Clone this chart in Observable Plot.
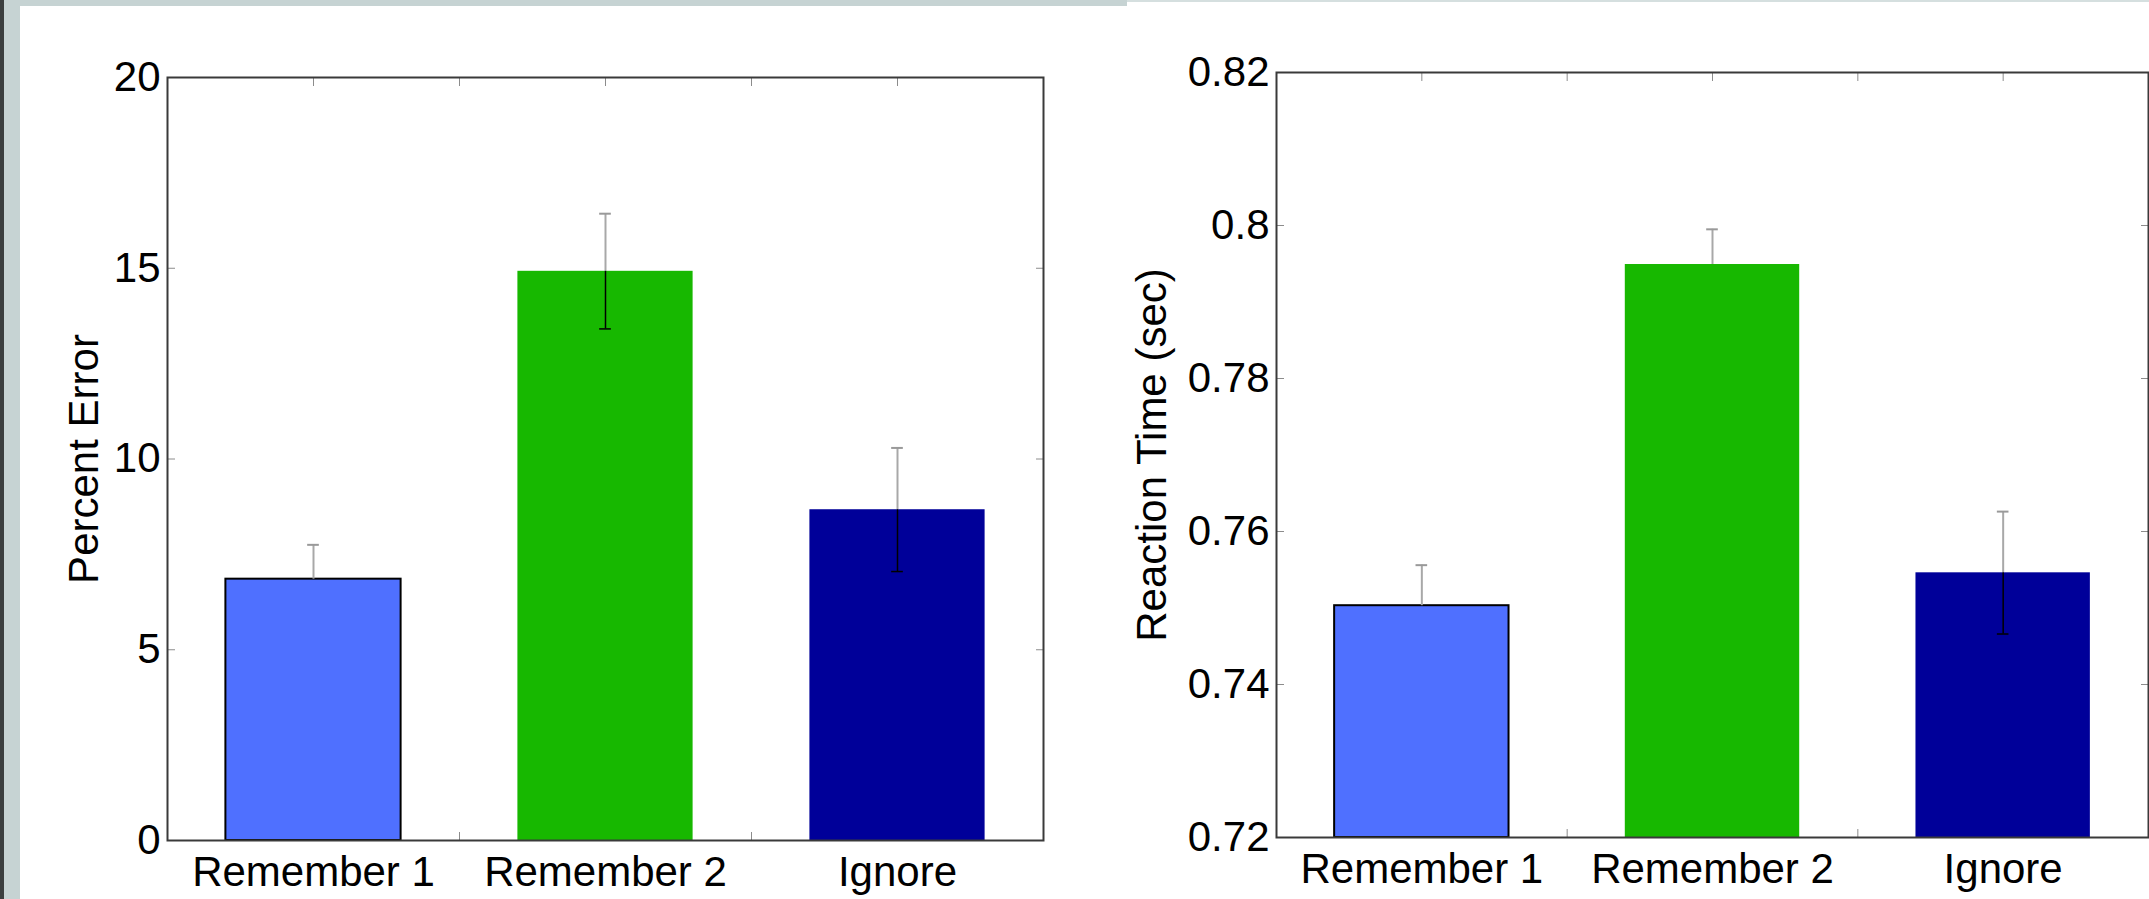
<!DOCTYPE html>
<html><head><meta charset="utf-8">
<script src="https://cdn.jsdelivr.net/npm/d3@7"></script>
<script src="https://cdn.jsdelivr.net/npm/@observablehq/plot@0.6"></script>
<style>
html,body{margin:0;padding:0;background:#fff;}
#page{position:relative;width:2149px;height:899px;overflow:hidden;background:#fff;font-family:"Liberation Sans",Arial,sans-serif;}
.deco{position:absolute;}
#left,#right{position:absolute;top:0;height:899px;}
#left{left:0;width:1100px;}
#right{left:1100px;width:1060px;}
#page svg{max-width:none !important;}
</style></head><body>
<div id="page">
  <div class="deco" style="left:0;top:0;width:1127px;height:6px;background:#c6d3d3"></div>
  <div class="deco" style="left:1127px;top:0;width:1022px;height:2px;background:#d5dfdf"></div>
  <div class="deco" style="left:4px;top:0;width:16px;height:899px;background:#c6d3d3"></div>
  <div class="deco" style="left:0;top:0;width:4px;height:899px;background:#3b3f3f"></div>
  <div id="left"></div>
  <div id="right"></div>
</div>
<script>
// ---- data ----
const categories = ["Remember 1", "Remember 2", "Ignore"];
const percentError = [6.85, 14.92, 8.67];
const percentErrorUpper = [0.90, 1.51, 1.62];
const percentErrorLower = [null, 1.51, 1.62];      // lower whisker not visible for Remember 1
const reactionTime = [0.7503, 0.7949, 0.7546];
const reactionTimeUpper = [0.0053, 0.0046, 0.0080];
const reactionTimeLower = [null, null, 0.0080];    // lower whisker visible only for Ignore
const percentTicks = [0, 5, 10, 15, 20];
const rtTicks = [0.72, 0.74, 0.76, 0.78, 0.8, 0.82];
const xTicks = [1, 1.5, 2, 2.5, 3];
const barColors = ["#4f70ff", "#17b800", "#000099"];

// ---- styles ----
const FONT = "Liberation Sans, Arial, Helvetica, sans-serif";
const FS = 42;
const TICK = "#8c8c8c";
const halfBar = 0.3;
const capHalf = 0.02;

function chart({values, up, lo, yDomain, yTicks, yFmt, yLabel, labelDx, width, margins}) {
  const rows = categories.map((c, i) => ({cat: c, idx: i + 1, value: values[i], up: up[i], lo: lo[i]}));
  const lowRows = rows.filter(d => d.lo != null);
  const y0 = yDomain[0];
  return Plot.plot({
    width, height: 899,
    marginLeft: margins[0], marginRight: margins[1], marginTop: margins[2], marginBottom: margins[3],
    style: {background: "transparent", fontFamily: FONT, fontSize: FS + "px", overflow: "visible", color: "black", maxWidth: "none"},
    x: {domain: [0.5, 3.5]},
    y: {domain: yDomain},
    color: {domain: categories, range: barColors},
    marks: [
      Plot.axisX({anchor: "bottom", ticks: xTicks, tickSize: -8, tickPadding: 24, stroke: TICK, fill: "black",
        fontSize: FS, label: null, tickFormat: d => Number.isInteger(d) ? categories[d - 1] : ""}),
      Plot.axisX({anchor: "top", ticks: xTicks, tickSize: -8, stroke: TICK, label: null, tickFormat: () => ""}),
      Plot.axisY({anchor: "left", ticks: yTicks, tickSize: -8, tickPadding: 15, stroke: TICK, fill: "black",
        fontSize: FS, label: null, tickFormat: yFmt}),
      Plot.axisY({anchor: "right", ticks: yTicks, tickSize: -8, stroke: TICK, label: null, tickFormat: () => ""}),
      Plot.rectY(rows, {x1: d => d.idx - halfBar, x2: d => d.idx + halfBar, y1: y0, y2: "value", fill: "cat"}),
      Plot.rectY(rows.filter(d => d.idx === 1), {x1: d => d.idx - halfBar, x2: d => d.idx + halfBar, y1: y0, y2: "value",
        fill: "none", stroke: "black", strokeWidth: 2}),
      Plot.ruleX(rows, {x: "idx", y1: "value", y2: d => d.value + d.up, stroke: "#a8a8a8", strokeWidth: 2}),
      Plot.ruleY(rows, {y: d => d.value + d.up, x1: d => d.idx - capHalf, x2: d => d.idx + capHalf, stroke: "#999", strokeWidth: 2}),
      Plot.ruleX(lowRows, {x: "idx", y1: d => d.value - d.lo, y2: "value", stroke: "black", strokeWidth: 1.5}),
      Plot.ruleY(lowRows, {y: d => d.value - d.lo, x1: d => d.idx - capHalf, x2: d => d.idx + capHalf, stroke: "black", strokeWidth: 1.5}),
      Plot.frame({stroke: "#3a3a3a", strokeWidth: 2}),
      Plot.text([yLabel], {text: d => d, frameAnchor: "left", rotate: -90, dx: labelDx, fontSize: FS,
        textAnchor: "middle", lineAnchor: "bottom", fill: "black"})
    ]
  });
}

document.getElementById("left").appendChild(chart({
  values: percentError, up: percentErrorUpper, lo: percentErrorLower, yDomain: [0, 20], yTicks: percentTicks,
  yFmt: d => String(d), yLabel: "Percent Error", labelDx: -70,
  width: 1100, margins: [167, 57, 77, 59]
}));
document.getElementById("right").appendChild(chart({
  values: reactionTime, up: reactionTimeUpper, lo: reactionTimeLower, yDomain: [0.72, 0.82], yTicks: rtTicks,
  yFmt: d => String(+d.toFixed(2)), yLabel: "Reaction Time (sec)", labelDx: -111,
  width: 1060, margins: [176, 12, 72, 62]
}));
</script>
</body></html>
